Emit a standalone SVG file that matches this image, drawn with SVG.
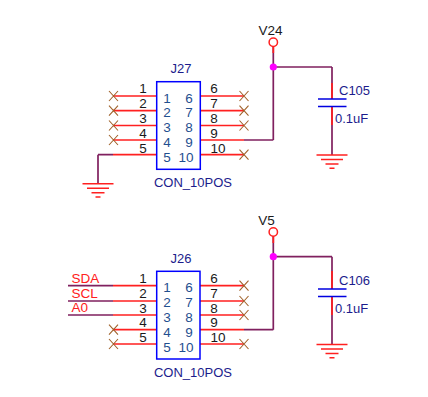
<svg xmlns="http://www.w3.org/2000/svg" width="428" height="397" viewBox="0 0 428 397">
<style>
.pin{stroke:#ff2020;stroke-width:1.700;fill:none}
.wire{stroke:#80205f;stroke-width:1.700;fill:none}
.x{stroke:#a0622a;stroke-width:1.100;fill:none}
.box{stroke:#0000ff;stroke-width:1.500;fill:#fff}
.plate{stroke:#0000e0;stroke-width:1.500;fill:none}
.gnd{stroke:#ff2020;stroke-width:1.500;fill:none}
text{font-family:"Liberation Sans",Arial,sans-serif;font-size:13px}
.ref{fill:#1c1c8c}
.pn{fill:#1a1a1a;font-size:13.500px}
.inner{fill:#1f4f8f;font-size:13.500px}
.sig{fill:#ff2020;font-size:13.500px}
.mid{text-anchor:middle}
</style>
<defs>
<g id="nc"><path class="x" d="M-4.500-5L4.500 5M-4.500 5L4.500-5"/></g>
<g id="ground"><path class="gnd" d="M-15.500 0H15.500M-11 4.500H11M-6.500 9H6.500M-2.500 13.300H2.500"/></g>
</defs>
<g id="connectors">
<path class="pin" d="M113 96H157M113 110.700H157M113 125.500H157M113 140H157M113 154.700H157"/>
<path class="pin" d="M200 96H244M200 110.700H244M200 125.500H244M200 140H244M200 154.700H244"/>
<path class="wire" d="M98 154.700H113M98 154.700V183.700M244 140H273.300M273.300 46.500V140M273.300 67H332M332 67V99M332 106.500V155"/>
<path class="pin" d="M273.300 46.500V53M332 83V99M332 106.500V125"/>
<use href="#nc" x="113.500" y="96"/><use href="#nc" x="113.500" y="110.700"/><use href="#nc" x="113.500" y="125.500"/><use href="#nc" x="113.500" y="140"/>
<use href="#nc" x="244" y="96"/><use href="#nc" x="244" y="110.700"/><use href="#nc" x="244" y="125.500"/><use href="#nc" x="244" y="154.700"/>
<path class="pin" d="M113 285.700H157M113 301H157M113 315H157M113 329.700H157M113 344H157"/>
<path class="pin" d="M200 285.700H244M200 301H244M200 315H244M200 329.700H244M200 344H244"/>
<path class="wire" d="M68 285.700H113M68 301H113M68 315H113M244 329.700H273.300M273.300 236V329.700M273.300 256.700H332M332 256.700V289M332 296.500V344.500"/>
<path class="pin" d="M273.300 236V243M332 271V289M332 296.500V315"/>
<use href="#nc" x="113.500" y="329.700"/><use href="#nc" x="113.500" y="344"/>
<use href="#nc" x="244" y="285.700"/><use href="#nc" x="244" y="301"/><use href="#nc" x="244" y="315"/><use href="#nc" x="244" y="344"/>
</g>
<g id="J27">
<rect class="box" x="156.700" y="81.700" width="43.600" height="87.600"/>
<text class="ref mid" x="181" y="73">J27</text>
<text class="ref mid" x="193" y="187">CON_10POS</text>
<text class="pn mid" x="143" y="93">1</text><text class="pn mid" x="143" y="108">2</text><text class="pn mid" x="143" y="123">3</text><text class="pn mid" x="143" y="137.500">4</text><text class="pn mid" x="143" y="152.500">5</text><text class="pn mid" x="214" y="93">6</text><text class="pn mid" x="214" y="108">7</text><text class="pn mid" x="214" y="123">8</text><text class="pn mid" x="214" y="137.500">9</text><text class="pn mid" x="218" y="152.500">10</text>
<text class="inner mid" x="167" y="102.500">1</text><text class="inner mid" x="167" y="117">2</text><text class="inner mid" x="167" y="132">3</text><text class="inner mid" x="167" y="146.500">4</text><text class="inner mid" x="167" y="161.500">5</text><text class="inner mid" x="189" y="102.500">6</text><text class="inner mid" x="189" y="117">7</text><text class="inner mid" x="189" y="132">8</text><text class="inner mid" x="189" y="146.500">9</text><text class="inner mid" x="186" y="161.500">10</text>
</g>
<g id="J26">
<rect class="box" x="156.700" y="271.300" width="43.300" height="87.700"/>
<text class="ref mid" x="181" y="263">J26</text>
<text class="ref mid" x="193" y="377">CON_10POS</text>
<text class="pn mid" x="143" y="283">1</text><text class="pn mid" x="143" y="298">2</text><text class="pn mid" x="143" y="312.500">3</text><text class="pn mid" x="143" y="327">4</text><text class="pn mid" x="143" y="342">5</text><text class="pn mid" x="214" y="283">6</text><text class="pn mid" x="214" y="298">7</text><text class="pn mid" x="214" y="312.500">8</text><text class="pn mid" x="214" y="327">9</text><text class="pn mid" x="218" y="342">10</text>
<text class="inner mid" x="167" y="292">1</text><text class="inner mid" x="167" y="307">2</text><text class="inner mid" x="167" y="321.500">3</text><text class="inner mid" x="167" y="336.500">4</text><text class="inner mid" x="167" y="351.500">5</text><text class="inner mid" x="189" y="292">6</text><text class="inner mid" x="189" y="307">7</text><text class="inner mid" x="189" y="321.500">8</text><text class="inner mid" x="189" y="336.500">9</text><text class="inner mid" x="186" y="351.500">10</text>
</g>
<g id="SDA"><text class="sig" x="71.500" y="283">SDA</text></g>
<g id="SCL"><text class="sig" x="71.500" y="298">SCL</text></g>
<g id="A0"><text class="sig" x="71.500" y="312">A0</text></g>
<g id="GND1"><use href="#ground" x="98" y="183.700"/></g>
<g id="V24">
<circle cx="273.300" cy="42.300" r="4.200" fill="#fff" stroke="#ff2020" stroke-width="1.500"/>
<text class="pn mid" x="270.500" y="35">V24</text>
<circle cx="273.300" cy="67" r="3.600" fill="#ff00ff"/>
</g>
<g id="C105">
<path class="plate" d="M318 99H346.500M318 106.500H346.500"/>
<text class="ref" x="339" y="95">C105</text>
<text class="ref" x="335" y="123">0.1uF</text>
</g>
<g id="GND2"><use href="#ground" x="332" y="155"/></g>
<g id="V5">
<circle cx="273.300" cy="232" r="4.200" fill="#fff" stroke="#ff2020" stroke-width="1.500"/>
<text class="pn mid" x="266.500" y="225">V5</text>
<circle cx="273.300" cy="256.700" r="3.600" fill="#ff00ff"/>
</g>
<g id="C106">
<path class="plate" d="M318 289H346.500M318 296.500H346.500"/>
<text class="ref" x="339" y="285">C106</text>
<text class="ref" x="335" y="313">0.1uF</text>
</g>
<g id="GND3"><use href="#ground" x="332" y="344.500"/></g>
</svg>
